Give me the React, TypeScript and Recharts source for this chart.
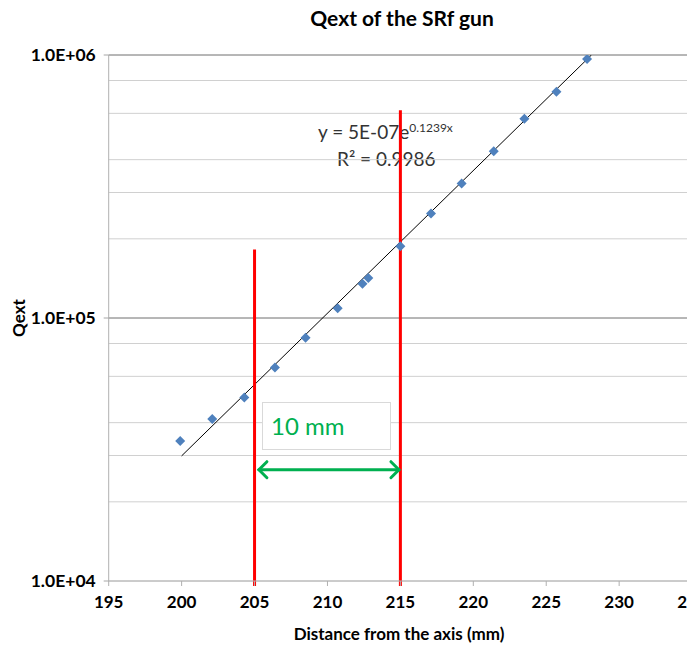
import React from "react";
import {
  ComposedChart,
  Scatter,
  Line,
  XAxis,
  YAxis,
  CartesianGrid,
  ReferenceLine,
} from "recharts";

// measured points: distance from the axis (mm) vs Qext
const distance = [199.9, 202.1, 204.3, 206.4, 208.5, 210.7, 212.4, 212.8, 215.0, 217.1, 219.2, 221.4, 223.5, 225.7, 227.8];
const qext = [34100, 41300, 49900, 64800, 84100, 109000, 135000, 141800, 187300, 249500, 324600, 430800, 571900, 724800, 965600];

// exponential trendline end points (y = 5E-07e^0.1239x)
const trendX = [200.0, 228.1];
const trendY = [29900, 1000000];

const xTicks = [195, 200, 205, 210, 215, 220, 225, 230, 235, 240];
const majorTicks = [10000, 100000, 1000000];
const minorTicks = [
  20000, 30000, 40000, 50000, 60000, 70000, 80000, 90000,
  200000, 300000, 400000, 500000, 600000, 700000, 800000, 900000,
];
const yTicks = [...majorTicks, ...minorTicks].sort((a, b) => a - b);

const points = distance.map((x, i) => ({ x, y: qext[i] }));
const trend = trendX.map((x, i) => ({ x, y: trendY[i] }));

const FONT = "Lato, 'Open Sans', sans-serif";
const GREEN = "#00b050";

function fmtSci(v: number) {
  const e = Math.round(Math.log10(v));
  return `1.0E+${String(e).padStart(2, "0")}`;
}

function YTick(props: any) {
  const { x, y, payload } = props;
  if (!majorTicks.includes(payload.value)) return null;
  return (
    <g>
      <line x1={x + 8} x2={x + 13} y1={y} y2={y} stroke="#a6a6a6" />
      <text x={x} y={y} dy="0.35em" textAnchor="end" fontSize={17.5} fontWeight="bold" fill="#000" fontFamily={FONT}>
        {fmtSci(payload.value)}
      </text>
    </g>
  );
}

function Diamond(props: any) {
  const { cx, cy } = props;
  const r = 5;
  return (
    <polygon
      points={`${cx},${cy - r} ${cx + r},${cy} ${cx},${cy + r} ${cx - r},${cy}`}
      fill="#4f81bd"
    />
  );
}

function DoubleArrow(props: any) {
  const { x1, y1, x2, y2 } = props;
  const h = 8;
  return (
    <g stroke={GREEN} strokeWidth={3} fill="none" strokeLinecap="round">
      <line x1={x1} y1={y1} x2={x2} y2={y2} />
      <polyline points={`${x1 + h},${y1 - h} ${x1},${y1} ${x1 + h},${y1 + h}`} />
      <polyline points={`${x2 - h},${y2 - h} ${x2},${y2} ${x2 - h},${y2 + h}`} />
    </g>
  );
}

export default function App() {
  return (
    <div
      style={{
        position: "absolute",
        left: 0,
        top: 0,
        width: 687,
        height: 646,
        overflow: "hidden",
        background: "#fff",
        fontFamily: FONT,
      }}
    >
      {/* trendline equation, sits under the chart so the red line crosses it */}
      <div style={{ position: "absolute", left: 318, top: 119, fontSize: 19, color: "#333", lineHeight: "26px", zIndex: 0 }}>
        y = 5E-07e<sup style={{ fontSize: 12, verticalAlign: "top", position: "relative", top: -4 }}>0.1239x</sup>
      </div>
      <div style={{ position: "absolute", left: 337, top: 146, fontSize: 19, color: "#333", lineHeight: "26px", zIndex: 0 }}>
        R² = 0.9986
      </div>

      <div style={{ position: "relative", zIndex: 1 }}>
        <ComposedChart width={776} height={646} margin={{ top: 55, right: 11, bottom: 0, left: 0 }}>
          <CartesianGrid vertical={false} stroke="#d0d0d0" />
          <XAxis
            type="number"
            dataKey="x"
            domain={[195, 240]}
            ticks={xTicks}
            allowDataOverflow
            height={65}
            tickSize={5}
            tickMargin={10}
            stroke="#b0b0b0"
            tick={{ fontSize: 17, fontWeight: "bold", fill: "#000", fontFamily: FONT }}
          />
          <YAxis
            type="number"
            dataKey="y"
            scale="log"
            domain={[10000, 1000000]}
            ticks={yTicks}
            allowDataOverflow
            width={108.7}
            tickSize={5}
            tickMargin={8}
            tickLine={false}
            stroke="#b0b0b0"
            tick={<YTick />}
          />
          {majorTicks.slice(1).map((v) => (
            <ReferenceLine key={v} y={v} stroke="#868686" />
          ))}
          <Scatter data={points} shape={<Diamond />} isAnimationActive={false} />
          <Line
            data={trend}
            dataKey="y"
            stroke="#000"
            strokeWidth={1}
            dot={false}
            activeDot={false}
            isAnimationActive={false}
          />
          <ReferenceLine
            segment={[{ x: 205, y: 182000 }, { x: 205, y: 9570 }]}
            stroke="#ff0000"
            strokeWidth={3}
            ifOverflow="visible"
          />
          <ReferenceLine
            segment={[{ x: 215, y: 617000 }, { x: 215, y: 9570 }]}
            stroke="#ff0000"
            strokeWidth={3}
            ifOverflow="visible"
          />
          <ReferenceLine
            segment={[{ x: 205.3, y: 26500 }, { x: 214.9, y: 26500 }]}
            ifOverflow="visible"
            shape={(p: any) => <DoubleArrow {...p} />}
          />
        </ComposedChart>
      </div>

      <div
        style={{
          position: "absolute",
          left: 262,
          top: 402,
          width: 119,
          height: 46,
          border: "1px solid #d9d9d9",
          background: "#fff",
          zIndex: 2,
          color: GREEN,
          fontSize: 24,
          lineHeight: "46px",
          paddingLeft: 8,
          boxSizing: "content-box",
        }}
      >
        10 mm
      </div>

      <div style={{ position: "absolute", left: 0, width: 804, top: 5, textAlign: "center", fontSize: 21, fontWeight: "bold", color: "#000", zIndex: 3 }}>
        Qext of the SRf gun
      </div>
      <div style={{ position: "absolute", left: 0, width: 798, top: 623, textAlign: "center", fontSize: 17, fontWeight: "bold", color: "#000", zIndex: 3 }}>
        Distance from the axis (mm)
      </div>
      <div
        style={{
          position: "absolute",
          left: 18,
          top: 318,
          transform: "translate(-50%, -50%) rotate(-90deg)",
          fontSize: 17,
          fontWeight: "bold",
          color: "#000",
          zIndex: 3,
        }}
      >
        Qext
      </div>
    </div>
  );
}
